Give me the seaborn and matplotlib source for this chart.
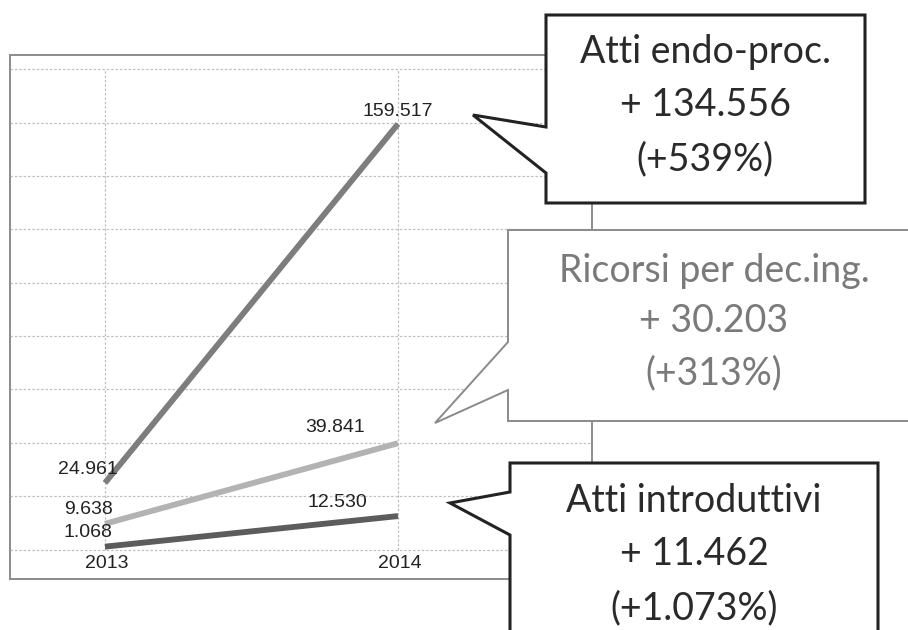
import numpy as np
import pandas as pd
import matplotlib
matplotlib.use("Agg")
import matplotlib.pyplot as plt
from matplotlib.patches import Polygon
import seaborn as sns

# ── Data ───────────────────────────────────────────────────────────────────────
YEARS = ["2013", "2014"]
SERIES = ["Atti endo-proc.", "Ricorsi per dec.ing.", "Atti introduttivi"]
ENDO = [24961, 159517]
RICORSI = [9638, 39841]
INTRO = [1068, 12530]
DELTA = ["+ 134.556", "+ 30.203", "+ 11.462"]
PCT = ["(+539%)", "(+313%)", "(+1.073%)"]
GRID_TICKS = [0, 20000, 40000, 60000, 80000, 100000, 120000, 140000, 160000, 180000]

COLORS = {SERIES[0]: "#7d7d7d", SERIES[1]: "#b3b3b3", SERIES[2]: "#5c5c5c"}

df = pd.DataFrame({
    "year": YEARS * 3,
    "value": ENDO + RICORSI + INTRO,
    "series": [s for s in SERIES for _ in YEARS],
})


def it_num(v):
    return f"{v:,}".replace(",", ".")


sns.set_theme(style="white")
plt.rcParams["font.family"] = ["Liberation Sans", "DejaVu Sans"]

W, H = 908, 630
fig = plt.figure(figsize=(W / 100, H / 100), dpi=100)
fig.patch.set_facecolor("white")

# plot frame in pixel coords: x 10..592, y 55..579
ax = fig.add_axes([10 / W, (H - 579) / H, 582 / W, 524 / H])
ax.set_facecolor("white")

sns.lineplot(data=df, x="year", y="value", hue="series", palette=COLORS,
             hue_order=SERIES, lw=4.2, legend=False, ax=ax,
             solid_capstyle="butt", zorder=3)

ax.set_xlim(-0.324, 1.662)
ax.set_ylim(-11057, 185360)
ax.set_xticks([])
ax.set_yticks([])
ax.set_xlabel("")
ax.set_ylabel("")
for sp in ax.spines.values():
    sp.set_visible(True)
    sp.set_color("#8c8c8c")
    sp.set_linewidth(1.4)

# dashed grid
ax.hlines(GRID_TICKS, -0.324, 1.662, colors="#c0c0c0", linestyles=(0, (2, 1.5)), lw=0.9, zorder=1)
ax.vlines(range(len(YEARS)), GRID_TICKS[0], GRID_TICKS[-1], colors="#c0c0c0",
          linestyles=(0, (2, 1.5)), lw=0.9, zorder=1)

# year labels
for i, y in enumerate(YEARS):
    ax.annotate(y, (i, 0), xytext=(1.5, -10), textcoords="offset points",
                ha="center", va="center", fontsize=14, color="#222222")

# value labels (offsets in points)
offsets = {
    SERIES[0]: [(-12, 10), (0, 9)],
    SERIES[1]: [(-12, 10), (-45, 11)],
    SERIES[2]: [(-12, 10), (-44, 10)],
}
for s, vals in zip(SERIES, [ENDO, RICORSI, INTRO]):
    for i, v in enumerate(vals):
        ax.annotate(it_num(v), (i, v), xytext=offsets[s][i], textcoords="offset points",
                    ha="center", va="center", fontsize=14, color="#222222", zorder=5)

# ── Callouts (overlay in pixel coords) ─────────────────────────────────────────
ov = fig.add_axes([0, 0, 1, 1])
ov.set_xlim(0, W)
ov.set_ylim(H, 0)
ov.axis("off")
ov.patch.set_alpha(0)


def callout(left, top, right, bottom, base1, base2, tip, edge, lw):
    pts = [(left, top), (right, top), (right, bottom), (left, bottom),
           (left, base2), tip, (left, base1)]
    ov.add_patch(Polygon(pts, closed=True, facecolor="white", edgecolor=edge,
                         lw=lw, joinstyle="miter", zorder=2))


boxes = [
    dict(left=546, top=15, right=865, bottom=203, base1=127, base2=173, tip=(473, 115),
         edge="#222222", lw=2.2, text="#2a2a2a", cx=705, ys=[52, 105, 159]),
    dict(left=508, top=230, right=915, bottom=421, base1=342, base2=390, tip=(435, 423),
         edge="#8a8a8a", lw=1.4, text="#7a7a7a", cx=714, ys=[271, 321, 373]),
    dict(left=510, top=463, right=878, bottom=650, base1=492, base2=535, tip=(450, 503),
         edge="#222222", lw=2.2, text="#2a2a2a", cx=694, ys=[501, 554, 608]),
]
for b, name, d, p in zip(boxes, SERIES, DELTA, PCT):
    callout(b["left"], b["top"], b["right"], b["bottom"], b["base1"], b["base2"],
            b["tip"], b["edge"], b["lw"])
    for txt, y in zip([name, d, p], b["ys"]):
        ov.text(b["cx"], y, txt, ha="center", va="center", fontsize=27,
                color=b["text"], family=["Lato", "DejaVu Sans"], zorder=3)

fig.savefig("out.png", dpi=100)
